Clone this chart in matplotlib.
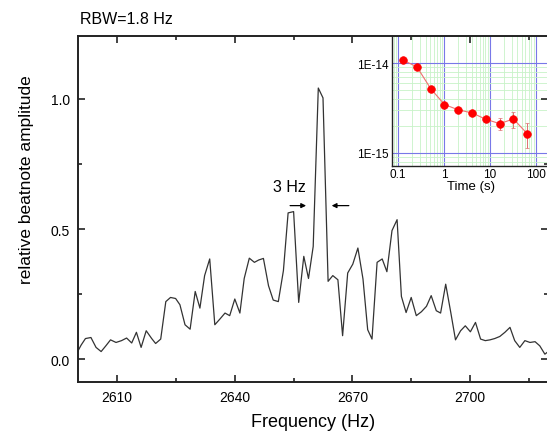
"""Beatnote spectrum with Allan deviation inset."""

import matplotlib
matplotlib.use('Agg')
import matplotlib.pyplot as plt
from matplotlib.ticker import LogLocator, NullFormatter, FixedLocator, FixedFormatter

plt.rcParams['font.family'] = ['Liberation Sans', 'DejaVu Sans']

# beatnote spectrum (Hz, relative amplitude)
freq = [2599.8, 2600.8, 2601.9, 2603.3, 2604.6, 2605.9, 2607.1, 2608.3, 2609.7, 2611.1,
        2612.4, 2613.7, 2614.9, 2616.1, 2617.4, 2618.8, 2619.8, 2621.1, 2622.4, 2623.6,
        2624.9, 2626.0, 2627.3, 2628.6, 2629.9, 2631.1, 2632.3, 2633.6, 2634.9, 2636.2,
        2637.5, 2638.7, 2640.0, 2641.3, 2642.4, 2643.7, 2645.0, 2646.1, 2647.3, 2648.6,
        2649.8, 2651.1, 2652.4, 2653.6, 2655.0, 2656.3, 2657.6, 2658.8, 2660.0, 2661.3,
        2662.5, 2663.8, 2665.0, 2666.3, 2667.5, 2668.8, 2670.1, 2671.4, 2672.7, 2673.9,
        2675.0, 2676.3, 2677.6, 2678.8, 2680.1, 2681.4, 2682.5, 2683.7, 2685.0, 2686.3,
        2687.6, 2688.9, 2690.1, 2691.4, 2692.5, 2693.8, 2695.1, 2696.3, 2697.6, 2698.8,
        2700.1, 2701.4, 2702.7, 2703.9, 2705.1, 2706.3, 2707.6, 2708.9, 2710.2, 2711.4,
        2712.7, 2714.0, 2715.3, 2716.6, 2717.8, 2719.1, 2719.7]
amp = [0.026, 0.054, 0.079, 0.083, 0.045, 0.029, 0.051, 0.074, 0.064, 0.071,
       0.081, 0.062, 0.103, 0.045, 0.109, 0.079, 0.060, 0.077, 0.221, 0.237,
       0.233, 0.209, 0.132, 0.115, 0.260, 0.196, 0.321, 0.385, 0.132, 0.154,
       0.177, 0.167, 0.231, 0.177, 0.310, 0.388, 0.372, 0.381, 0.387, 0.282,
       0.227, 0.221, 0.340, 0.562, 0.567, 0.218, 0.395, 0.310, 0.433, 1.042,
       1.004, 0.299, 0.321, 0.305, 0.090, 0.331, 0.365, 0.427, 0.308, 0.113,
       0.077, 0.372, 0.385, 0.336, 0.494, 0.536, 0.241, 0.179, 0.237, 0.167,
       0.182, 0.203, 0.244, 0.186, 0.177, 0.288, 0.179, 0.074, 0.109, 0.128,
       0.105, 0.141, 0.077, 0.071, 0.074, 0.079, 0.087, 0.103, 0.122, 0.071,
       0.045, 0.071, 0.064, 0.067, 0.051, 0.019, 0.026]

# inset: stability vs averaging time
tau = [0.128, 0.256, 0.512, 1.024, 2.048, 4.096, 8.19, 16.4, 32.8, 65.5]
sigma = [1.08e-14, 9.1e-15, 5.2e-15, 3.46e-15, 3.02e-15, 2.79e-15, 2.37e-15,
         2.12e-15, 2.39e-15, 1.64e-15]
sigma_err = [0.3e-16, 0.4e-16, 0.5e-16, 0.6e-16, 0.7e-16, 0.9e-16, 1.4e-16,
             3.1e-16, 5.0e-16, 5.2e-16]

W, H = 547, 435
fig = plt.figure(figsize=(W / 100, H / 100), dpi=100)

# inset drawn first so the main frame's ticks lie on top of it
ins = fig.add_axes([391.7 / W, 1 - 166.7 / H, (549.4 - 391.7) / W, (166.7 - 37.2) / H], zorder=1)
ins.set_xscale('log')
ins.set_yscale('log')
ins.errorbar(tau, sigma, yerr=sigma_err, fmt='o-', color='#f07070', ms=5.5, lw=0.8,
             mfc='red', mec='red', ecolor='#e07070', elinewidth=0.7, capsize=1.2,
             markeredgewidth=0.5, zorder=3)
ins.set_xlim(0.072, 200)
ins.set_ylim(7.2e-16, 2.0e-14)
ins.xaxis.set_major_locator(FixedLocator([0.1, 1, 10, 100]))
ins.xaxis.set_major_formatter(FixedFormatter(['0.1', '1', '10', '100']))
ins.xaxis.set_minor_locator(LogLocator(base=10, subs=range(2, 10), numticks=20))
ins.xaxis.set_minor_formatter(NullFormatter())
ins.yaxis.set_major_locator(FixedLocator([1e-15, 1e-14]))
ins.yaxis.set_major_formatter(FixedFormatter(['1E-15', '1E-14']))
ins.yaxis.set_minor_locator(LogLocator(base=10, subs=range(2, 10), numticks=20))
ins.yaxis.set_minor_formatter(NullFormatter())
ins.grid(True, which='major', color='#7878e8', lw=0.8)
ins.grid(True, which='minor', color='#c8f2c8', lw=0.6)
ins.set_axisbelow(True)
ins.tick_params(which='both', direction='in', length=0, labelsize=8.5, pad=2)
ins.set_xlabel('Time (s)', fontsize=9.5, labelpad=0)
for s in ['top', 'right']:
    ins.spines[s].set_visible(False)
for s in ['left', 'bottom']:
    ins.spines[s].set_linewidth(1.0)
    ins.spines[s].set_color('#222222')

# main spectrum
ax = fig.add_axes([78 / W, 1 - 383 / H, (548.4 - 78) / W, (383 - 37) / H], zorder=2)
ax.patch.set_visible(False)
ax.plot(freq, amp, color='#333333', lw=0.9)
ax.set_xlim(2600, 2720)
ax.set_ylim(-0.088, 1.242)
ax.set_xticks([2610, 2640, 2670, 2700])
ax.set_xticks([2625, 2655, 2685, 2715], minor=True)
ax.set_yticks([0.0, 0.5, 1.0])
ax.set_yticklabels(['0.0', '0.5', '1.0'])
ax.set_yticks([0.25, 0.75], minor=True)
ax.tick_params(which='both', direction='in', top=True, right=True, width=1.2,
               labelsize=10, color='#222222')
ax.tick_params(which='major', length=5, pad=6)
ax.tick_params(which='minor', length=3)
for s in ax.spines.values():
    s.set_linewidth(1.4)
    s.set_color('#222222')
ax.set_xlabel('Frequency (Hz)', fontsize=13, labelpad=6)
fig.text(27 / W, 1 - 180 / H, 'relative beatnote amplitude', rotation=90,
         ha='center', va='center', fontsize=12.5)
fig.text(80 / W, 1 - 24 / H, 'RBW=1.8 Hz', fontsize=11.5, va='baseline')

# linewidth marker
ax.text(2653.9, 0.645, '3 Hz', fontsize=11.5, ha='center', va='baseline')
arrow = dict(arrowstyle='-|>', color='black', lw=0.9, mutation_scale=7)
ax.annotate('', xy=(2658.9, 0.59), xytext=(2653.4, 0.59), arrowprops=arrow)
ax.annotate('', xy=(2664.0, 0.59), xytext=(2669.8, 0.59), arrowprops=arrow)

fig.savefig('out.png', dpi=100)
